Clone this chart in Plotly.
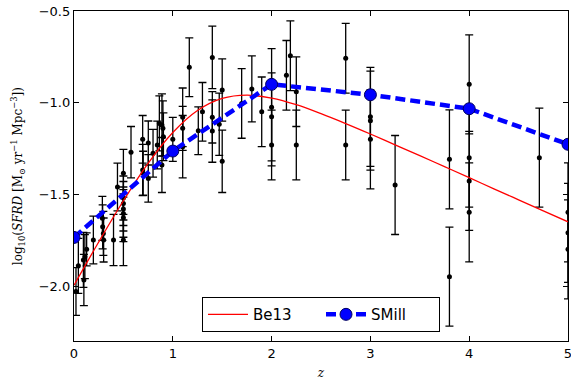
import plotly.graph_objects as go

# Observational SFRD compilation (black points with error bars)
obs_z = [0.02, 0.044, 0.095, 0.10, 0.11, 0.128, 0.196, 0.287, 0.29, 0.297, 0.30,
         0.40, 0.44, 0.50, 0.50, 0.50, 0.50, 0.50, 0.50, 0.50, 0.577,
         0.695, 0.695, 0.70, 0.752, 0.752, 0.80, 0.843, 0.864, 0.89, 0.89, 0.90, 0.905,
         1.00, 1.10, 1.10, 1.10, 1.167, 1.258, 1.30, 1.40, 1.40, 1.40, 1.47, 1.50, 1.50,
         1.697, 1.80, 1.90, 2.00, 2.00, 2.00, 2.15, 2.19, 2.25, 2.25,
         2.75, 2.75, 3.00, 3.00, 3.00, 3.25, 3.80, 3.80,
         4.00, 4.00, 4.00, 4.00, 4.71, 5.00, 5.00, 5.00]
obs_y = [-2.03, -1.89, -1.858, -1.967, -1.84, -1.80, -1.749, -1.631, -1.677, -1.713, -1.749,
         -1.749, -1.46, -1.385, -1.52, -1.55, -1.58, -1.604, -1.628, -1.749, -1.27,
         -1.20, -1.367, -1.385, -1.22, -1.413, -1.276, -1.231, -1.113, -1.122, -1.34, -1.14, -1.186,
         -1.20, -1.08, -1.14, -1.24, -0.807, -1.153, -1.05, -0.753, -1.08, -1.155, -1.118, -0.931, -1.32,
         -1.004, -0.925, -1.05, -1.025, -1.077, -1.231, -0.851, -0.744, -0.94, -1.231,
         -0.758, -1.231, -1.077, -1.098, -1.20, -1.449, -1.309, -1.949,
         -0.90, -1.30, -1.427, -1.598, -1.30, -1.598, -1.71, -1.80]
obs_err = [0.13, 0.15, 0.15, 0.14, 0.12, 0.09, 0.13, 0.12, 0.12, 0.12, 0.12,
           0.14, 0.13, 0.13, 0.12, 0.12, 0.12, 0.13, 0.13, 0.14, 0.14,
           0.13, 0.14, 0.12, 0.12, 0.13, 0.13, 0.13, 0.15, 0.17, 0.15, 0.15, 0.13,
           0.12, 0.16, 0.12, 0.17, 0.16, 0.13, 0.16, 0.17, 0.14, 0.17, 0.17, 0.17, 0.17,
           0.19, 0.18, 0.19, 0.32, 0.24, 0.19, 0.19, 0.19, 0.19, 0.19,
           0.19, 0.19, 0.27, 0.27, 0.27, 0.27, 0.27, 0.27,
           0.27, 0.27, 0.27, 0.27, 0.27, 0.27, 0.27, 0.27]

# Be13 fit (red curve), sampled
be13_z = [0.0, 0.25, 0.5, 0.75, 1.0, 1.25, 1.5, 1.75, 2.0, 2.25, 2.5, 2.75, 3.0,
          3.25, 3.5, 3.75, 4.0, 4.25, 4.5, 4.75, 5.0]
be13_y = [-1.996, -1.760, -1.535, -1.331, -1.163, -1.043, -0.977, -0.959, -0.975, -1.011,
          -1.060, -1.114, -1.171, -1.230, -1.289, -1.349, -1.409, -1.470, -1.530, -1.590, -1.650]

# SMill model
smill_z = [0, 1, 2, 3, 4, 5]
smill_y = [-1.735, -1.264, -0.90, -0.957, -1.033, -1.227]

x_ticks = [0, 1, 2, 3, 4, 5]
y_ticks = [-2.0, -1.5, -1.0, -0.5]

fig = go.Figure()
fig.add_trace(go.Scatter(
    x=obs_z, y=obs_y, mode="markers",
    marker=dict(color="black", size=5),
    error_y=dict(type="data", array=obs_err, color="black", thickness=1.3, width=4),
    showlegend=False, cliponaxis=True))
fig.add_trace(go.Scatter(
    x=be13_z, y=be13_y, mode="lines", name="Be13",
    line=dict(color="red", width=1.3, shape="spline")))
fig.add_trace(go.Scatter(
    x=smill_z, y=smill_y, mode="lines+markers", name="SMill",
    line=dict(color="blue", width=4.5, dash="10px,5px"),
    marker=dict(color="blue", size=12, line=dict(color="#000060", width=1)),
    cliponaxis=True))

axis_common = dict(
    showline=True, linecolor="black", linewidth=1.3, mirror="ticks",
    ticks="inside", ticklen=5, tickwidth=1, tickcolor="black",
    showgrid=False, zeroline=False, ticklabeloverflow="allow",
    tickfont=dict(family="DejaVu Sans", size=13, color="black"))

fig.update_xaxes(range=[0, 5], tickvals=x_ticks, ticktext=[str(t) for t in x_ticks],
                 title=dict(text="<i>z</i>", font=dict(family="DejaVu Serif", size=12, color="black"),
                            standoff=10),
                 **axis_common)
fig.update_yaxes(range=[-2.3, -0.5], tickvals=y_ticks,
                 ticktext=["\u22122.0", "\u22121.5", "\u22121.0", "\u22120.5"],
                 **axis_common)

fig.add_annotation(
    text="log<sub>10</sub>(<i>SFRD</i> [M<sub>\u2299</sub> yr<sup>\u22121</sup> Mpc<sup>\u22123</sup>])",
    xref="paper", yref="paper", x=-0.113, y=0.5, xanchor="center", yanchor="middle",
    textangle=-90, showarrow=False,
    font=dict(family="DejaVu Serif", size=12, color="black"))

fig.update_layout(
    width=571, height=380,
    margin=dict(l=74, r=3, t=11, b=39, autoexpand=False),
    paper_bgcolor="white", plot_bgcolor="white",
    legend=dict(orientation="h", x=0.5, xanchor="center", y=0.027, yanchor="bottom",
                bordercolor="black", borderwidth=1, bgcolor="white",
                font=dict(family="DejaVu Sans", size=15, color="black"),
                entrywidth=63, entrywidthmode="pixels", itemwidth=40),
)

fig.write_html("out.html")
